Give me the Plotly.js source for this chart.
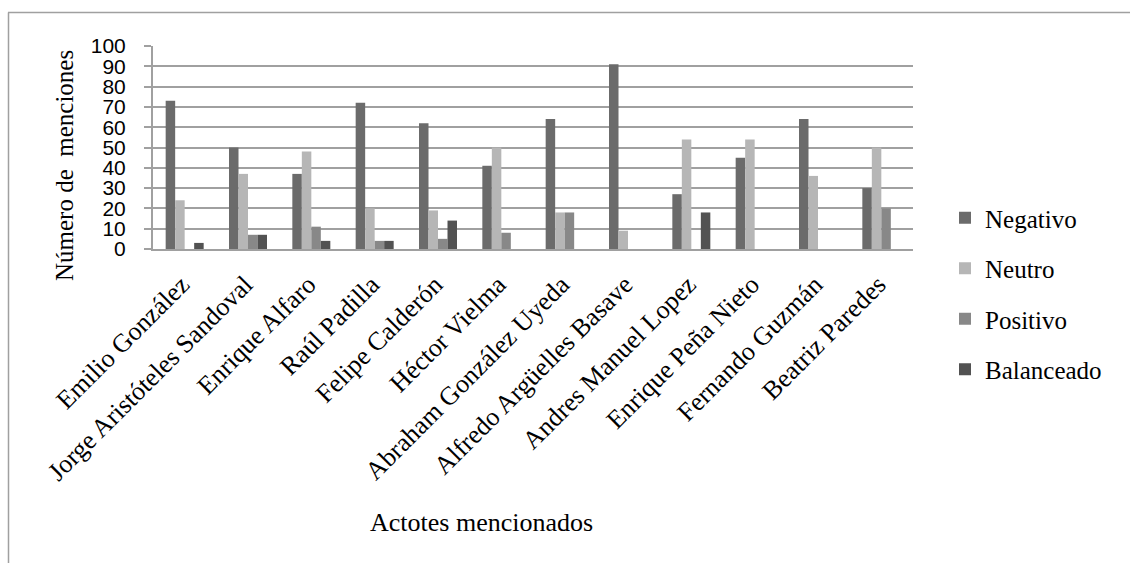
<!DOCTYPE html>
<html>
<head>
<meta charset="utf-8">
<script src="https://cdn.plot.ly/plotly-3.0.1.min.js"></script>
<style>
html, body { margin: 0; padding: 0; background: #fff; }
#chart { width: 1130px; height: 563px; }
</style>
</head>
<body>
<div id="chart"></div>
<script>
const categories = [
  "Emilio González", "Jorge Aristóteles Sandoval", "Enrique Alfaro", "Raúl Padilla",
  "Felipe Calderón", "Héctor Vielma", "Abraham González Uyeda", "Alfredo Argüelles Basave",
  "Andres Manuel Lopez", "Enrique Peña Nieto", "Fernando Guzmán", "Beatriz Paredes"
];
const negativo   = [73, 50, 37, 72, 62, 41, 64, 91, 27, 45, 64, 30];
const neutro     = [24, 37, 48, 20, 19, 50, 18, 9, 54, 54, 36, 50];
const positivo   = [0, 7, 11, 4, 5, 8, 18, 0, 0, 0, 0, 20];
const balanceado = [3, 7, 4, 4, 14, 0, 0, 0, 18, 0, 0, 0];
const seriesNames = ["Negativo", "Neutro", "Positivo", "Balanceado"];
const yTicks = [0, 10, 20, 30, 40, 50, 60, 70, 80, 90, 100];

const colors = ["#6b6b6b", "#b6b6b6", "#888888", "#525252"];
const seriesValues = [negativo, neutro, positivo, balanceado];

const traces = seriesValues.map((vals, i) => ({
  type: "bar",
  name: seriesNames[i],
  x: categories,
  y: vals,
  legendgroup: "g" + i,
  marker: { color: colors[i], line: { width: 0 } },
  hoverinfo: "x+y+name"
}));

// plot area in pixels: left 153, right 913, top 46, bottom 249
const L = 153, R = 913, T = 46, B = 249;
const W = R - L, H = B - T;
const px = v => (v - L) / W;
const py = v => (B - v) / H;

const serif = "Liberation Serif, Times New Roman, serif";

const layout = {
  width: 1130,
  height: 563,
  margin: { l: L, r: 1130 - R, t: T, b: 563 - B, pad: 0 },
  paper_bgcolor: "#ffffff",
  plot_bgcolor: "#ffffff",
  barmode: "group",
  bargap: 0.4,
  bargroupgap: 0,
  showlegend: true,
  legend: {
    x: px(945), xanchor: "left",
    y: py(195), yanchor: "top",
    traceorder: "grouped",
    tracegroupgap: 15,
    itemwidth: 30,
    font: { family: serif, size: 25, color: "#000" },
    bgcolor: "rgba(0,0,0,0)"
  },
  xaxis: {
    type: "category",
    tickangle: -45,
    tickfont: { family: serif, size: 26, color: "#000" },
    showgrid: false,
    showline: true,
    linecolor: "#a0a0a0",
    linewidth: 2,
    ticks: "",
    ticklabelstandoff: 8,
    ticklabelshift: -3,
    automargin: false,
    title: { text: "" }
  },
  yaxis: {
    range: [0, 100],
    tickvals: yTicks,
    ticktext: yTicks.map(String),
    tickfont: { family: "Liberation Sans, Arial, sans-serif", size: 21, color: "#000" },
    showgrid: true,
    gridcolor: "#a0a0a0",
    gridwidth: 2,
    zeroline: false,
    showline: true,
    linecolor: "#a0a0a0",
    linewidth: 2,
    ticks: "outside",
    ticklen: 7,
    tickwidth: 2,
    tickcolor: "#a0a0a0",
    ticklabelstandoff: 14,
    automargin: false,
    title: { text: "" }
  },
  annotations: [
    {
      text: "Número de\u00a0 menciones",
      xref: "paper", yref: "paper",
      x: px(64), y: py(166),
      xanchor: "center", yanchor: "middle",
      textangle: -90,
      showarrow: false,
      font: { family: serif, size: 25, color: "#000" }
    },
    {
      text: "Actotes mencionados",
      xref: "paper", yref: "paper",
      x: px(481), y: py(522),
      xanchor: "center", yanchor: "middle",
      showarrow: false,
      font: { family: serif, size: 26, color: "#000" }
    }
  ],
  shapes: [
    {
      type: "line", xref: "paper", yref: "paper",
      x0: px(8), x1: px(1130), y0: py(12.5), y1: py(12.5),
      line: { color: "#a0a0a0", width: 1.5 }
    },
    {
      type: "line", xref: "paper", yref: "paper",
      x0: px(8.5), x1: px(8.5), y0: py(12.5), y1: py(563),
      line: { color: "#a0a0a0", width: 1.5 }
    }
  ]
};

Plotly.newPlot("chart", traces, layout, { displayModeBar: false, staticPlot: true });
</script>
</body>
</html>
